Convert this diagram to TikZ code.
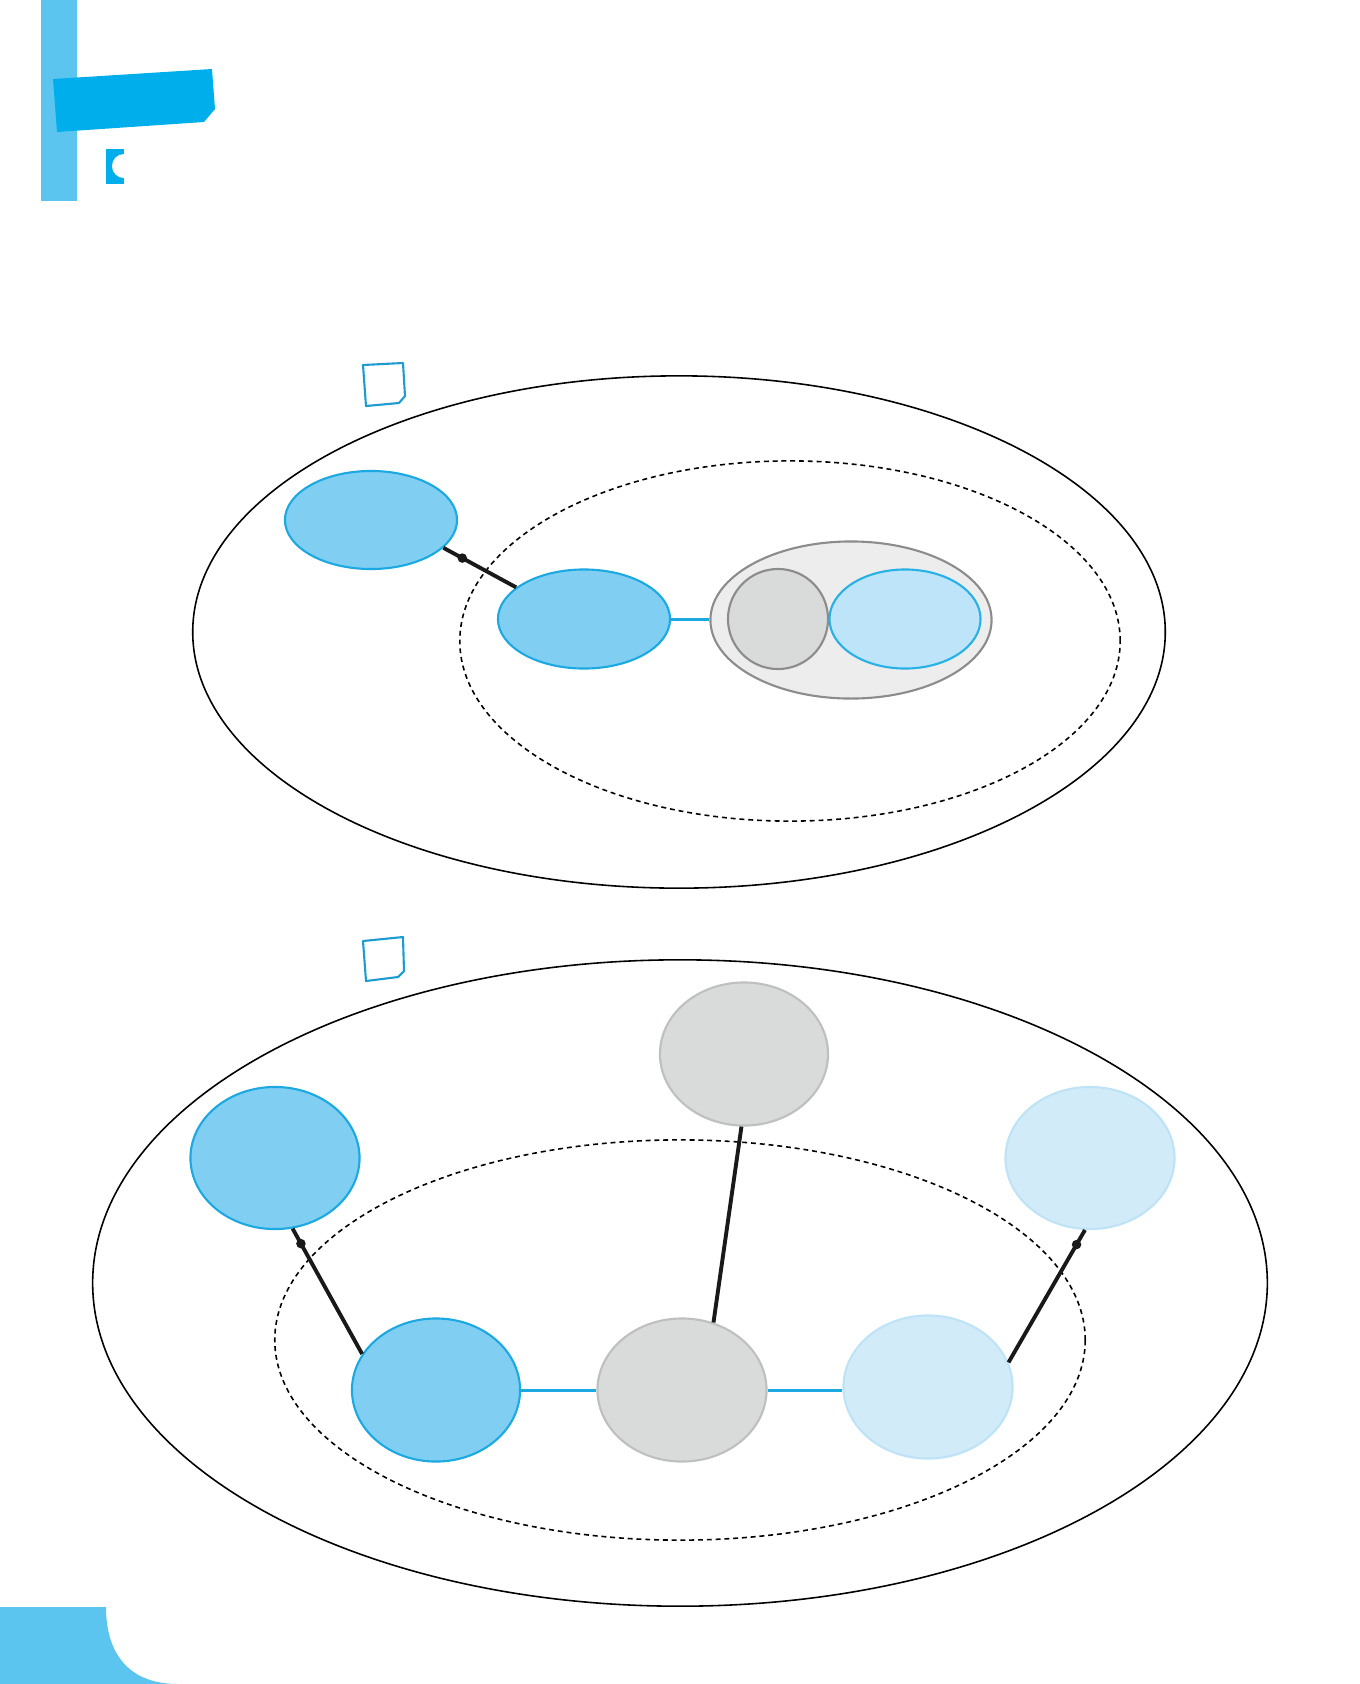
\documentclass[tikz,border=0pt]{standalone}
\usepackage{tikz}
\usetikzlibrary{shapes.geometric}

\definecolor{barblue}{HTML}{5BC5F0}
\definecolor{bannerblue}{HTML}{00AEEB}
\definecolor{boxblue}{HTML}{1F9BD1}
\definecolor{bluefill}{HTML}{80CFF3}
\definecolor{bluedraw}{HTML}{1CA8E0}
\definecolor{greyfill}{HTML}{D9DADA}
\definecolor{greydraw}{HTML}{BEBFBF}
\definecolor{palefill}{HTML}{D2EBF9}
\definecolor{paledraw}{HTML}{BEE3F6}
\definecolor{lightfill}{HTML}{BDE4F8}
\definecolor{lightdraw}{HTML}{27B1E4}
\definecolor{shellfill}{HTML}{EDEDED}
\definecolor{shelldraw}{HTML}{8C8C8C}

\begin{document}
\begin{tikzpicture}[x=0.01cm, y=-0.01cm,
    set/.style={ellipse, inner sep=0pt, line width=0.6pt},
    blueset/.style={set, fill=bluefill, draw=bluedraw},
    greyset/.style={set, fill=greyfill, draw=greydraw},
    paleset/.style={set, fill=palefill, draw=paledraw},
    link/.style={line width=1.1pt, black!90},
    bluelink/.style={line width=0.85pt, bluedraw},
    joint/.style={circle, fill=black!90, inner sep=0pt, minimum size=0.095cm},
    fine/.style={dash pattern=on 1.4pt off 1.1pt, line width=0.45pt},
    tag/.style={draw=boxblue, line width=0.6pt, line join=round}]
    \useasboundingbox (0,0) rectangle (1359,1684);
    % Header
    \fill[barblue] (41,0) rectangle (77,201);
    \fill[bannerblue] (53,79) -- (212,69) -- (215,109) -- (204,122) -- (57,132) -- cycle;
    \fill[bannerblue] (106,149) rectangle (124,184);
    \fill[white] (124,166) circle[radius=0.12cm];
    % Corner
    \fill[barblue] (0,1607) -- (106,1607) .. controls (106,1655) and (130,1684) .. (178,1684) -- (0,1684) -- cycle;

    % First picture
    \draw[tag] (363,365) -- (403,363) -- (405,396) -- (399,403) -- (366,406) -- cycle;
    \draw[line width=0.45pt] (679,632) ellipse [x radius=4.86cm, y radius=2.56cm];
    \draw[fine] (790,641) ellipse [x radius=3.30cm, y radius=1.80cm];
    \node[blueset, minimum width=1.72cm, minimum height=0.98cm] (outer) at (371,520) {};
    \node[blueset, minimum width=1.72cm, minimum height=0.99cm] (inner) at (584,619) {};
    \node[ellipse, inner sep=0pt, fill=shellfill, draw=shelldraw, line width=0.6pt,
          minimum width=2.81cm, minimum height=1.57cm] (shell) at (851,620) {};
    \node[circle, inner sep=0pt, fill=greyfill, draw=shelldraw, line width=0.6pt,
          minimum size=1.00cm] (core) at (778,619) {};
    \node[set, fill=lightfill, draw=lightdraw, minimum width=1.51cm, minimum height=0.99cm] (shell2) at (905,619) {};
    \draw[link] (outer.-21) -- node[joint, pos=0.26] {} (inner.155);
    \draw[bluelink] (inner.east) -- (inner.east -| shell.west);

    % Second picture
    \draw[tag] (363,941) -- (403,937) -- (404,971) -- (398,977) -- (366,981) -- cycle;
    \draw[line width=0.45pt] (680,1283) ellipse [x radius=5.87cm, y radius=3.23cm];
    \draw[fine] (680,1340) ellipse [x radius=4.05cm, y radius=2.00cm];
    \node[blueset, minimum width=1.69cm, minimum height=1.42cm] (blueA) at (275,1158) {};
    \node[greyset, minimum width=1.68cm, minimum height=1.43cm] (greyA) at (744,1054) {};
    \node[paleset, minimum width=1.69cm, minimum height=1.42cm] (paleA) at (1090,1158) {};
    \node[blueset, minimum width=1.68cm, minimum height=1.43cm] (blueB) at (436,1390) {};
    \node[greyset, minimum width=1.69cm, minimum height=1.43cm] (greyB) at (682,1390) {};
    \node[paleset, minimum width=1.69cm, minimum height=1.43cm] (paleB) at (928,1387) {};
    \draw[bluelink] (blueB.east) -- (greyB.west);
    \draw[bluelink] (greyB.east) -- (greyB.east -| paleB.west);
    \draw[link] (greyA.-92) -- (greyB.65);
    \draw[link] (blueA.-76) -- node[joint, pos=0.12] {} (blueB.154);
    \draw[link] (paleA.-94) -- node[joint, pos=0.11] {} (paleB.17);
\end{tikzpicture}
\end{document}
